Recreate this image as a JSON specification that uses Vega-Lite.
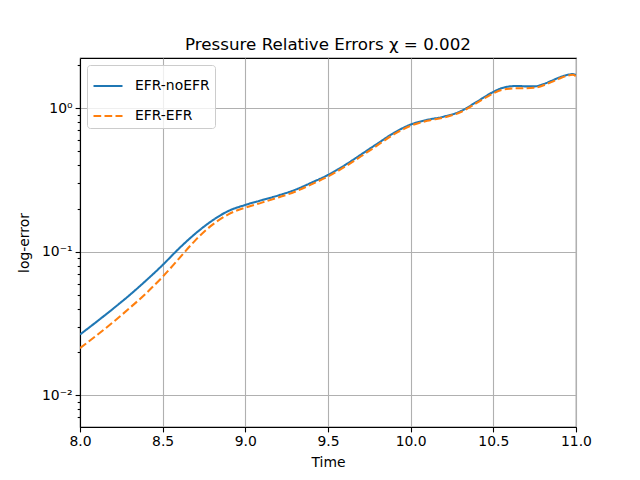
{
  "$schema": "https://vega.github.io/schema/vega-lite/v6.json",
  "width": 496,
  "height": 369,
  "autosize": "none",
  "padding": {"left": 80, "top": 58, "right": 64, "bottom": 53},
  "background": "white",
  "title": {"text": "Pressure Relative Errors χ = 0.002", "font": "DejaVu Sans", "fontSize": 16.7, "fontWeight": "normal", "baseline": "alphabetic", "offset": 8, "dy": 17, "color": "black"},
  "data": {
    "values": [
      {"t": 8.0, "series": "EFR-noEFR", "err": 0.0265},
      {"t": 8.1, "series": "EFR-noEFR", "err": 0.0325},
      {"t": 8.2, "series": "EFR-noEFR", "err": 0.0401},
      {"t": 8.3, "series": "EFR-noEFR", "err": 0.0499},
      {"t": 8.4, "series": "EFR-noEFR", "err": 0.0631},
      {"t": 8.5, "series": "EFR-noEFR", "err": 0.0809},
      {"t": 8.6, "series": "EFR-noEFR", "err": 0.1057},
      {"t": 8.7, "series": "EFR-noEFR", "err": 0.1345},
      {"t": 8.8, "series": "EFR-noEFR", "err": 0.165},
      {"t": 8.9, "series": "EFR-noEFR", "err": 0.193},
      {"t": 9.0, "series": "EFR-noEFR", "err": 0.212},
      {"t": 9.1, "series": "EFR-noEFR", "err": 0.229},
      {"t": 9.2, "series": "EFR-noEFR", "err": 0.247},
      {"t": 9.3, "series": "EFR-noEFR", "err": 0.27},
      {"t": 9.4, "series": "EFR-noEFR", "err": 0.303},
      {"t": 9.5, "series": "EFR-noEFR", "err": 0.343},
      {"t": 9.6, "series": "EFR-noEFR", "err": 0.4},
      {"t": 9.7, "series": "EFR-noEFR", "err": 0.476},
      {"t": 9.8, "series": "EFR-noEFR", "err": 0.568},
      {"t": 9.9, "series": "EFR-noEFR", "err": 0.675},
      {"t": 10.0, "series": "EFR-noEFR", "err": 0.77},
      {"t": 10.1, "series": "EFR-noEFR", "err": 0.83},
      {"t": 10.2, "series": "EFR-noEFR", "err": 0.874},
      {"t": 10.3, "series": "EFR-noEFR", "err": 0.95},
      {"t": 10.4, "series": "EFR-noEFR", "err": 1.11},
      {"t": 10.5, "series": "EFR-noEFR", "err": 1.3},
      {"t": 10.55, "series": "EFR-noEFR", "err": 1.38},
      {"t": 10.6, "series": "EFR-noEFR", "err": 1.42},
      {"t": 10.65, "series": "EFR-noEFR", "err": 1.43},
      {"t": 10.7, "series": "EFR-noEFR", "err": 1.42},
      {"t": 10.75, "series": "EFR-noEFR", "err": 1.42},
      {"t": 10.8, "series": "EFR-noEFR", "err": 1.47},
      {"t": 10.85, "series": "EFR-noEFR", "err": 1.55},
      {"t": 10.9, "series": "EFR-noEFR", "err": 1.64},
      {"t": 10.95, "series": "EFR-noEFR", "err": 1.71},
      {"t": 10.98, "series": "EFR-noEFR", "err": 1.73},
      {"t": 11.0, "series": "EFR-noEFR", "err": 1.7},
      {"t": 8.0, "series": "EFR-EFR", "err": 0.0213},
      {"t": 8.1, "series": "EFR-EFR", "err": 0.0261},
      {"t": 8.2, "series": "EFR-EFR", "err": 0.0323},
      {"t": 8.3, "series": "EFR-EFR", "err": 0.0405},
      {"t": 8.4, "series": "EFR-EFR", "err": 0.0514},
      {"t": 8.5, "series": "EFR-EFR", "err": 0.067},
      {"t": 8.6, "series": "EFR-EFR", "err": 0.09},
      {"t": 8.7, "series": "EFR-EFR", "err": 0.121},
      {"t": 8.8, "series": "EFR-EFR", "err": 0.154},
      {"t": 8.9, "series": "EFR-EFR", "err": 0.183},
      {"t": 9.0, "series": "EFR-EFR", "err": 0.203},
      {"t": 9.1, "series": "EFR-EFR", "err": 0.22},
      {"t": 9.2, "series": "EFR-EFR", "err": 0.239},
      {"t": 9.3, "series": "EFR-EFR", "err": 0.262},
      {"t": 9.4, "series": "EFR-EFR", "err": 0.295},
      {"t": 9.5, "series": "EFR-EFR", "err": 0.335},
      {"t": 9.6, "series": "EFR-EFR", "err": 0.39},
      {"t": 9.7, "series": "EFR-EFR", "err": 0.463},
      {"t": 9.8, "series": "EFR-EFR", "err": 0.553},
      {"t": 9.9, "series": "EFR-EFR", "err": 0.66},
      {"t": 10.0, "series": "EFR-EFR", "err": 0.755},
      {"t": 10.1, "series": "EFR-EFR", "err": 0.818},
      {"t": 10.2, "series": "EFR-EFR", "err": 0.862},
      {"t": 10.3, "series": "EFR-EFR", "err": 0.937},
      {"t": 10.4, "series": "EFR-EFR", "err": 1.09},
      {"t": 10.5, "series": "EFR-EFR", "err": 1.27},
      {"t": 10.55, "series": "EFR-EFR", "err": 1.34},
      {"t": 10.6, "series": "EFR-EFR", "err": 1.37},
      {"t": 10.65, "series": "EFR-EFR", "err": 1.38},
      {"t": 10.7, "series": "EFR-EFR", "err": 1.38},
      {"t": 10.75, "series": "EFR-EFR", "err": 1.39},
      {"t": 10.8, "series": "EFR-EFR", "err": 1.44},
      {"t": 10.85, "series": "EFR-EFR", "err": 1.52},
      {"t": 10.9, "series": "EFR-EFR", "err": 1.61},
      {"t": 10.95, "series": "EFR-EFR", "err": 1.69},
      {"t": 10.98, "series": "EFR-EFR", "err": 1.71},
      {"t": 11.0, "series": "EFR-EFR", "err": 1.67}
    ]
  },
  "mark": {"type": "line", "strokeWidth": 2.08, "interpolate": "monotone", "clip": true},
  "encoding": {
    "x": {
      "field": "t", "type": "quantitative", "title": "Time",
      "scale": {"domain": [8, 11], "nice": false, "zero": false},
      "axis": {"values": [8, 8.5, 9, 9.5, 10, 10.5, 11], "format": ".1f"}
    },
    "y": {
      "field": "err", "type": "quantitative", "title": "log-error",
      "scale": {"type": "log", "domain": [0.00601, 2.24], "nice": false},
      "axis": {
        "values": [0.006, 0.007, 0.008, 0.009, 0.01, 0.02, 0.03, 0.04, 0.05, 0.06, 0.07, 0.08, 0.09, 0.1, 0.2, 0.3, 0.4, 0.5, 0.6, 0.7, 0.8, 0.9, 1, 2],
        "labelExpr": "datum.value == 1 ? '10⁰' : datum.value == 0.1 ? '10⁻¹' : datum.value == 0.01 ? '10⁻²' : ''",
        "tickSize": {"condition": {"test": "datum.value == 1 || datum.value == 0.1 || datum.value == 0.01", "value": 4.9}, "value": 2.8},
        "gridOpacity": {"condition": {"test": "datum.value == 1 || datum.value == 0.1 || datum.value == 0.01", "value": 1}, "value": 0},
        "titlePadding": 10
      }
    },
    "color": {
      "field": "series", "type": "nominal", "title": null,
      "scale": {"domain": ["EFR-noEFR", "EFR-EFR"], "range": ["#1f77b4", "#ff7f0e"]},
      "legend": {
        "orient": "top-left", "offset": 7, "symbolType": "stroke", "symbolSize": 841,
        "symbolStrokeWidth": 2.08, "labelFontSize": 13.9, "labelFont": "DejaVu Sans",
        "labelOffset": 11, "rowPadding": 7, "padding": 5,
        "fillColor": "rgba(255,255,255,0.8)", "strokeColor": "#cccccc", "cornerRadius": 3
      }
    },
    "strokeDash": {
      "field": "series", "type": "nominal", "title": null,
      "scale": {"domain": ["EFR-noEFR", "EFR-EFR"], "range": [[1, 0], [7.7, 3.3]]}
    }
  },
  "config": {
    "font": "DejaVu Sans",
    "view": {"stroke": "black", "strokeWidth": 1.1},
    "axis": {
      "labelFont": "DejaVu Sans", "labelFontSize": 13.9, "labelColor": "black",
      "titleFont": "DejaVu Sans", "titleFontSize": 13.9, "titleFontWeight": "normal", "titleColor": "black",
      "domainColor": "black", "domainWidth": 1.1, "tickColor": "black", "tickWidth": 1.1,
      "tickSize": 4.9, "labelPadding": 3, "gridColor": "#b0b0b0", "gridWidth": 1.1,
      "labelFlush": false, "labelOverlap": false
    },
    "axisX": {"titlePadding": 7}
  }
}
